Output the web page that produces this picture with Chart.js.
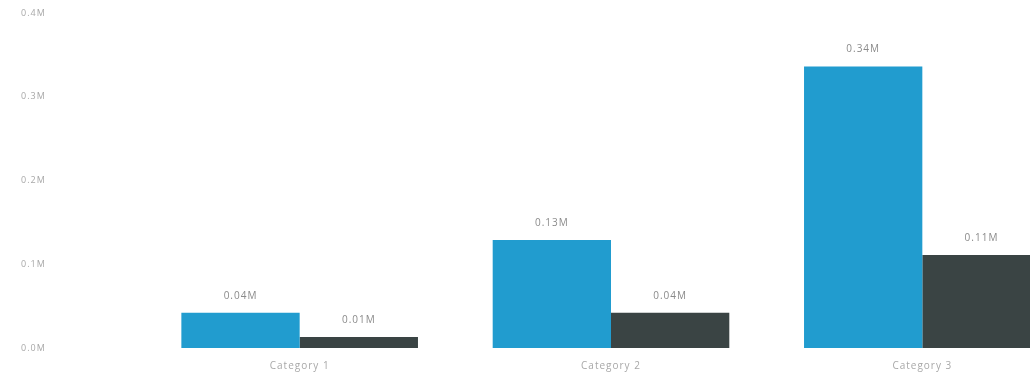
<!DOCTYPE html>
<html>
  <head>
    <title>Chart</title>
    <script src="https://cdn.jsdelivr.net/npm/chart.js"></script>
    <style>
      body { margin: 0; background: #fff; overflow: hidden; }
      .grafico { width: 1078px; height: 375px; }
    </style>
  </head>

  <body>
    <div class="grafico">
      <canvas id="grafico" width="1078" height="375"></canvas>
    </div>

    <script>
      // valores em milhoes
      var categorias = ["Category 1", "Category 2", "Category 3"];
      var serieAzul = [0.042, 0.129, 0.336];
      var serieEscura = [0.013, 0.042, 0.111];
      var ticksY = [0, 0.1, 0.2, 0.3, 0.4];

      // texto um pouco espacado
      var espacamento = {
        id: "espacamento",
        beforeDraw(chart) {
          chart.ctx.letterSpacing = "1px";
        },
      };

      // escreve o valor acima de cada barra
      var rotulosBarras = {
        id: "rotulosBarras",
        afterDatasetsDraw(chart) {
          var ctx = chart.ctx;
          ctx.save();
          ctx.font = "10px 'Open Sans', sans-serif";
          ctx.fillStyle = "#8a8a8a";
          ctx.textAlign = "center";
          ctx.textBaseline = "middle";
          chart.data.datasets.forEach((ds, i) => {
            chart.getDatasetMeta(i).data.forEach((bar, j) => {
              ctx.fillText(ds.data[j].toFixed(2) + "M", bar.x, bar.y - 17);
            });
          });
          ctx.restore();
        },
      };

      var grafico = new Chart(document.getElementById("grafico").getContext("2d"), {
        type: "bar",
        data: {
          labels: categorias,
          datasets: [
            {
              label: "Serie 1",
              data: serieAzul,
              backgroundColor: "#219ccf",
              categoryPercentage: 0.76,
              barPercentage: 1.0,
            },
            {
              label: "Serie 2",
              data: serieEscura,
              backgroundColor: "#3a4444",
              categoryPercentage: 0.76,
              barPercentage: 1.0,
            },
          ],
        },
        options: {
          responsive: false,
          animation: false,
          layout: { padding: { top: 13, left: 21, right: 0, bottom: 0 } },
          plugins: {
            legend: { display: false },
            tooltip: { enabled: false },
          },
          scales: {
            x: {
              grid: { display: false },
              border: { display: false },
              ticks: {
                color: "#a8a8a8",
                font: { size: 10, family: "'Open Sans', sans-serif" },
                padding: 4,
              },
              afterFit(scale) {
                scale.height = 27;
              },
            },
            y: {
              min: 0,
              max: 0.4,
              grid: { display: false },
              border: { display: false },
              afterBuildTicks(scale) {
                scale.ticks = ticksY.map((v) => ({ value: v }));
              },
              ticks: {
                color: "#a8a8a8",
                crossAlign: "far",
                font: { size: 9, family: "'Open Sans', sans-serif" },
                callback: (v) => v.toFixed(1) + "M",
              },
              afterFit(scale) {
                scale.width = 123;
              },
            },
          },
        },
        plugins: [espacamento, rotulosBarras],
      });
    </script>
  </body>
</html>
